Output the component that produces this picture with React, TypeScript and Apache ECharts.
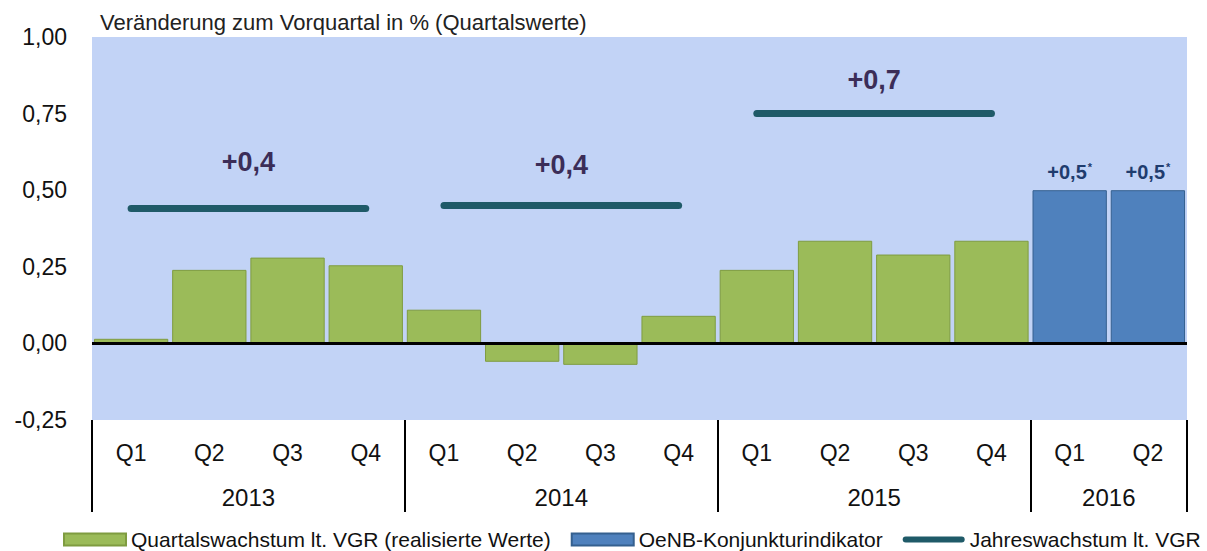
import React, { useEffect, useRef } from "react";
import * as echarts from "echarts";

const quarterLabels = ["Q1", "Q2", "Q3", "Q4", "Q1", "Q2", "Q3", "Q4", "Q1", "Q2", "Q3", "Q4", "Q1", "Q2"];
const years = ["2013", "2014", "2015", "2016"];
const quartersPerYear = [4, 4, 4, 2];
const realized = [0.015, 0.24, 0.28, 0.255, 0.11, -0.06, -0.07, 0.09, 0.24, 0.335, 0.29, 0.335, null, null];
const indicator = [null, null, null, null, null, null, null, null, null, null, null, null, 0.5, 0.5];
const indicatorLabels = ["+0,5", "+0,5"];
const annualYears = ["2013", "2014", "2015"];
const annualGrowth = [0.44, 0.45, 0.75];
const annualLabels = ["+0,4", "+0,4", "+0,7"];

const FONT = "'Liberation Sans', Arial, sans-serif";
// label vertical offsets (pixels above each annual line) — styling only
const annualLabelLift = [-47, -41, -34];

export default function App() {
  const ref = useRef<HTMLDivElement>(null);
  useEffect(() => {
    if (!ref.current) return;
    const chart = echarts.init(ref.current, null, { renderer: "svg" });

    const starts: number[] = [];
    let acc = 0;
    quartersPerYear.forEach((q) => {
      starts.push(acc);
      acc += q;
    });
    const boundaries = [...starts, acc];
    const mids = starts.map((s, i) => s + quartersPerYear[i] / 2);
    const total = acc;

    const lineSeries = annualYears.map((y, i) => {
      const idx = years.indexOf(y);
      const s = starts[idx];
      const n = quartersPerYear[idx];
      const v = annualGrowth[i];
      return {
        name: "Jahreswachstum lt. VGR",
        type: "line",
        xAxisIndex: 1,
        yAxisIndex: 0,
        data: [
          [s + 0.5, v],
          [s + n - 0.5, v],
        ],
        symbol: "none",
        lineStyle: { color: "#1f5a68", width: 7, cap: "round" },
        itemStyle: { color: "#1f5a68" },
        z: 5,
        markPoint: {
          symbol: "circle",
          symbolSize: 0,
          data: [{ coord: [s + n / 2, v] }],
          label: {
            show: true,
            formatter: annualLabels[i],
            offset: [0, annualLabelLift[i]],
            fontSize: 27,
            fontWeight: "bold",
            color: "#3b2d58",
            fontFamily: FONT,
          },
        },
      };
    });

    const option: any = {
      animation: false,
      backgroundColor: "#ffffff",
      textStyle: { fontFamily: FONT },
      title: {
        text: "Veränderung zum Vorquartal in % (Quartalswerte)",
        left: 100,
        top: 11,
        padding: 0,
        textStyle: { fontSize: 22, fontWeight: "normal", color: "#222", fontFamily: FONT },
      },
      grid: {
        left: 92,
        right: 20,
        top: 37,
        bottom: 131,
        show: true,
        backgroundColor: "#c2d3f6",
        borderWidth: 0,
      },
      legend: {
        left: 63,
        top: 529,
        padding: 0,
        itemWidth: 62,
        itemHeight: 12,
        itemGap: 20,
        textStyle: { fontSize: 21, color: "#111", fontFamily: FONT },
        data: [
          { name: "Quartalswachstum lt. VGR (realisierte Werte)", icon: "rect" },
          { name: "OeNB-Konjunkturindikator", icon: "rect" },
          {
            name: "Jahreswachstum lt. VGR",
            icon: "path://M3,0 L59,0 A3,3 0 0 1 59,6 L3,6 A3,3 0 0 1 3,0 Z",
          },
        ],
      },
      xAxis: [
        {
          type: "category",
          data: quarterLabels,
          position: "bottom",
          axisLine: { show: false },
          axisTick: { show: false },
          axisLabel: { fontSize: 23, color: "#111", margin: 21, fontFamily: FONT },
          splitLine: { show: false },
        },
        {
          type: "value",
          min: 0,
          max: total,
          position: "bottom",
          axisLine: { show: false },
          splitLine: { show: false },
          axisTick: {
            show: true,
            customValues: boundaries,
            length: 92,
            lineStyle: { color: "#000", width: 2 },
          },
          axisLabel: {
            show: true,
            customValues: mids,
            margin: 65,
            fontSize: 24,
            color: "#111",
            fontFamily: FONT,
            formatter: (val: number) => {
              const i = mids.findIndex((m) => Math.abs(m - val) < 1e-6);
              return i >= 0 ? years[i] : "";
            },
          },
        },
      ],
      yAxis: {
        type: "value",
        min: -0.25,
        max: 1,
        interval: 0.25,
        axisLine: { show: false },
        axisTick: { show: false },
        splitLine: { show: false },
        axisLabel: {
          fontSize: 23,
          color: "#111",
          margin: 25,
          fontFamily: FONT,
          formatter: (v: number) => v.toFixed(2).replace(".", ","),
        },
      },
      series: [
        {
          name: "Quartalswachstum lt. VGR (realisierte Werte)",
          type: "bar",
          xAxisIndex: 0,
          data: realized.map((v) => (v === null ? "-" : v)),
          barCategoryGap: "5%",
          barGap: "-100%",
          itemStyle: { color: "#9bbb59", borderColor: "#7f9c40", borderWidth: 1 },
        },
        {
          name: "OeNB-Konjunkturindikator",
          type: "bar",
          xAxisIndex: 0,
          data: indicator.map((v) => (v === null ? "-" : v)),
          barCategoryGap: "5%",
          barGap: "-100%",
          itemStyle: { color: "#4f81bd", borderColor: "#35608f", borderWidth: 1 },
          label: {
            show: true,
            position: "top",
            distance: 7,
            formatter: (p: any) => {
              const k = indicator.slice(0, p.dataIndex).filter((x) => x !== null).length;
              return "{v|" + indicatorLabels[k] + "}{s|*}";
            },
            rich: {
              v: { fontSize: 20, fontWeight: "bold", color: "#1f3c6e", fontFamily: FONT },
              s: { fontSize: 11, fontWeight: "bold", color: "#1f3c6e", fontFamily: FONT, padding: [0, 0, 11, 1] },
            },
          },
          markLine: {
            silent: true,
            symbol: ["none", "none"],
            label: { show: false },
            lineStyle: { color: "#000", width: 3, type: "solid" },
            data: [{ yAxis: 0 }],
          },
        },
        ...lineSeries,
      ],
    };
    chart.setOption(option);
    return () => chart.dispose();
  }, []);
  return (
    <div
      ref={ref}
      style={{ position: "fixed", left: 0, top: 0, width: 1207, height: 551 }}
    />
  );
}
